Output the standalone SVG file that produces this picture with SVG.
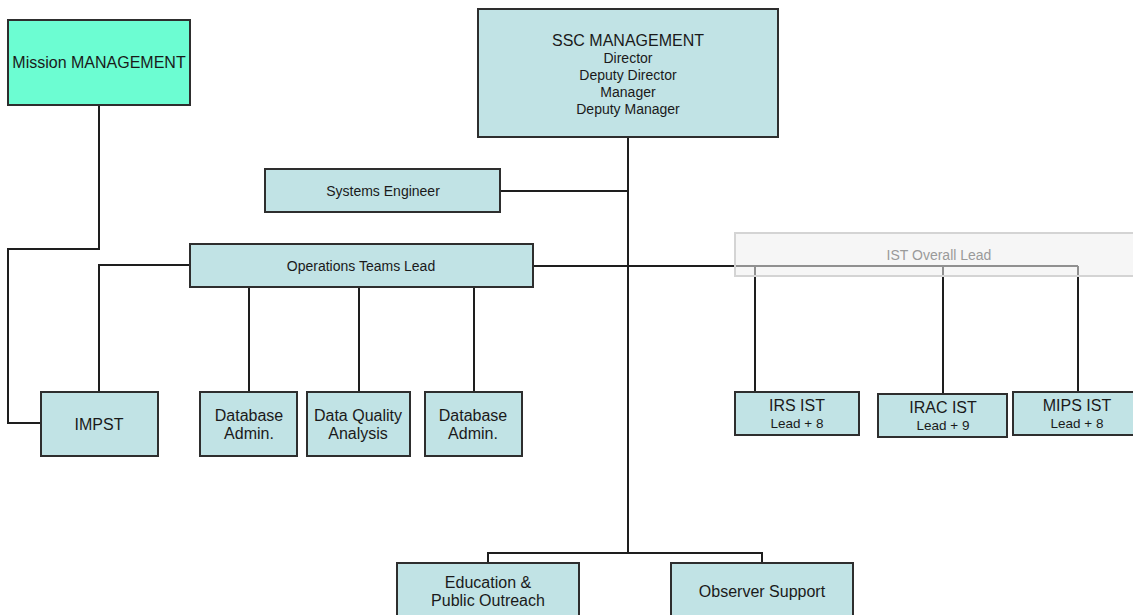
<svg xmlns="http://www.w3.org/2000/svg" width="1133" height="615" viewBox="0 0 1133 615">
<style>
.box{fill:#c1e3e5;stroke:#2e2e2e;stroke-width:2}
.mm{fill:#6cfdd2;stroke:#2e2e2e;stroke-width:2}
.ist{fill:#efefef;fill-opacity:0.55;stroke:#d4d4d4;stroke-width:2}
.c{fill:none;stroke:#1e1e1e;stroke-width:2}
text{font-family:"Liberation Sans",Arial,sans-serif;fill:#1a1a1a;text-anchor:middle;dominant-baseline:central}
.s16{font-size:16px}.s14{font-size:14px}.s13{font-size:13.5px}
.grey{fill:#9a9a9a}
</style>
<rect width="1133" height="615" fill="#fff"/>
<g id="connectors">
<path class="c" d="M99,105 V249 H8 V423 H41"/>
<path class="c" d="M628,137 V553"/>
<path class="c" d="M500,191 H628"/>
<path class="c" d="M533,266 H1078"/>
<path class="c" d="M190,265 H99 V392"/>
<path class="c" d="M249,287 V392 M359,287 V392 M474,287 V392"/>
<path class="c" d="M755,266 V392 M943,266 V393 M1078,266 V392"/>
<path class="c" d="M488,563 V553 H762 V563"/>
</g>
<g id="ist-overall-lead"><rect class="ist" x="735" y="233" width="410" height="43"/><text class="s14 grey" x="939" y="255">IST Overall Lead</text></g>
<g id="mission-management"><rect class="mm" x="8" y="20" width="182" height="85"/><text class="s16" x="99" y="62">Mission MANAGEMENT</text></g>
<g id="ssc-management"><rect class="box" x="478" y="9" width="300" height="128"/>
<text class="s16" x="628" y="40">SSC MANAGEMENT</text>
<text class="s14" x="628" y="58">Director</text>
<text class="s14" x="628" y="75">Deputy Director</text>
<text class="s14" x="628" y="92">Manager</text>
<text class="s14" x="628" y="109">Deputy Manager</text></g>
<g id="systems-engineer"><rect class="box" x="265" y="169" width="235" height="43"/><text class="s14" x="383" y="191">Systems Engineer</text></g>
<g id="operations-teams-lead"><rect class="box" x="190" y="244" width="343" height="43"/><text class="s14" x="361" y="266">Operations Teams Lead</text></g>
<g id="impst"><rect class="box" x="41" y="392" width="117" height="64"/><text class="s16" x="99" y="424">IMPST</text></g>
<g id="database-admin-1"><rect class="box" x="200" y="392" width="97" height="64"/><text class="s16" x="249" y="415">Database</text><text class="s16" x="249" y="433">Admin.</text></g>
<g id="data-quality-analysis"><rect class="box" x="307" y="392" width="103" height="64"/><text class="s16" x="358" y="415">Data Quality</text><text class="s16" x="358" y="433">Analysis</text></g>
<g id="database-admin-2"><rect class="box" x="425" y="392" width="97" height="64"/><text class="s16" x="473" y="415">Database</text><text class="s16" x="473" y="433">Admin.</text></g>
<g id="irs-ist"><rect class="box" x="735" y="392" width="124" height="43"/><text class="s16" x="797" y="405">IRS IST</text><text class="s13" x="797" y="423">Lead + 8</text></g>
<g id="irac-ist"><rect class="box" x="878" y="394" width="129" height="43"/><text class="s16" x="943" y="407">IRAC IST</text><text class="s13" x="943" y="425">Lead + 9</text></g>
<g id="mips-ist"><rect class="box" x="1013" y="392" width="130" height="43"/><text class="s16" x="1077" y="405">MIPS IST</text><text class="s13" x="1077" y="423">Lead + 8</text></g>
<g id="education-public-outreach"><rect class="box" x="397" y="563" width="182" height="64"/><text class="s16" x="488" y="582">Education &amp;</text><text class="s16" x="488" y="600">Public Outreach</text></g>
<g id="observer-support"><rect class="box" x="671" y="563" width="182" height="64"/><text class="s16" x="762" y="591">Observer Support</text></g>
</svg>
